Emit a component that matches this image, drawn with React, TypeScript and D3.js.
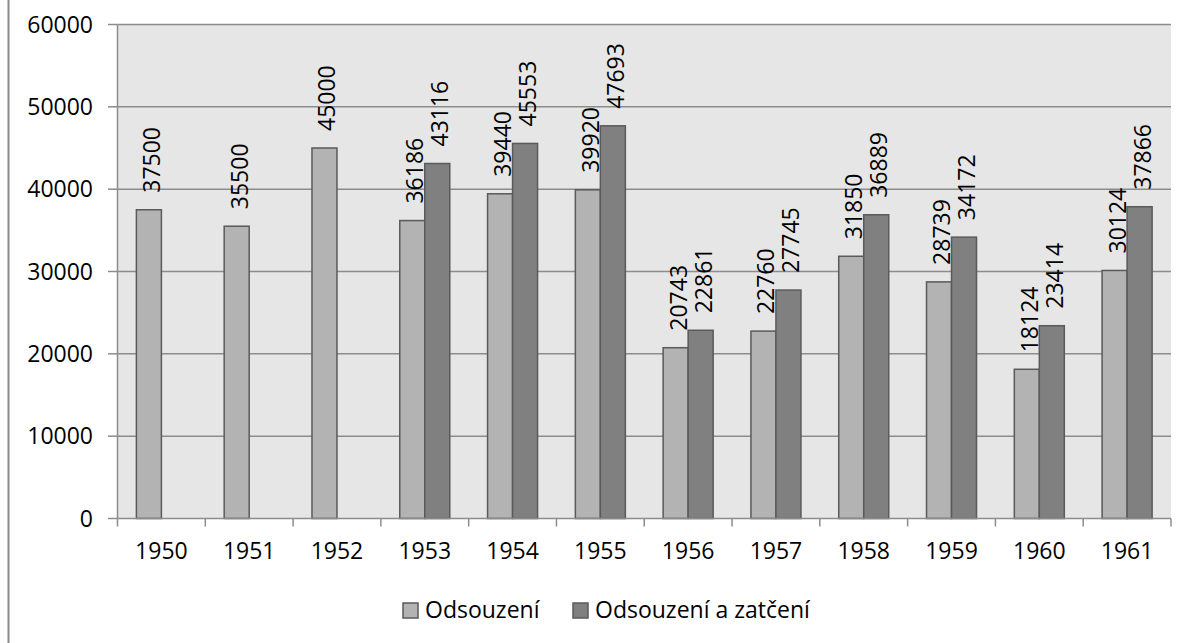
import React from "react";
import * as d3 from "d3";

const categories = ["1950","1951","1952","1953","1954","1955","1956","1957","1958","1959","1960","1961"];
const odsouzeni = [37500,35500,45000,36186,39440,39920,20743,22760,31850,28739,18124,30124];
const odsouzeniZatceni: (number | null)[] = [null,null,null,43116,45553,47693,22861,27745,36889,34172,23414,37866];
const yTicks = [0,10000,20000,30000,40000,50000,60000];
const seriesNames = ["Odsouzení","Odsouzení a zatčení"];

const W = 1192, H = 643;
const left = 117.5, right = 1171, top = 24.5, bottom = 518.5;
const font = "'Open Sans', sans-serif";
const fs = 23;
const colors = ["#b3b3b3", "#808080"];
const stroke = "#5a5a5a";

export default function App() {
  const x = d3.scaleBand().domain(categories).range([left, right]).paddingInner(0).paddingOuter(0);
  const y = d3.scaleLinear().domain([0, 60000]).range([bottom, top]);
  const bw = x.bandwidth();
  const barW = bw * 50 / 87.8 / 2;
  const groupOff = (bw - 2 * barW) / 2;
  const series = [odsouzeni, odsouzeniZatceni];

  return (
    <svg width={W} height={H} style={{ position: "fixed", left: 0, top: 0, background: "#fff" }} fontFamily={font}>
      <line x1={8.5} x2={8.5} y1={0} y2={H} stroke="#8a8a8a" strokeWidth={2} />
      <rect x={left} y={top} width={right - left} height={bottom - top} fill="#e6e6e6" />
      {yTicks.map(t => (
        <g key={t}>
          {t > 0 && <line x1={left} x2={right} y1={y(t)} y2={y(t)} stroke="#8c8c8c" strokeWidth={1.5} />}
          <line x1={108} x2={left} y1={y(t)} y2={y(t)} stroke="#8c8c8c" strokeWidth={1.5} />
          <text x={93} y={y(t)} dy="0.35em" textAnchor="end" fontSize={fs} fill="#000">{t}</text>
        </g>
      ))}
      <line x1={left} x2={left} y1={top} y2={bottom} stroke="#8c8c8c" strokeWidth={1.5} />
      {series.map((s, si) => s.map((v, i) => v == null ? null : (
        <rect key={`${si}-${i}`} x={(x(categories[i]) as number) + groupOff + si * barW} y={y(v)}
          width={barW} height={bottom - y(v)} fill={colors[si]} stroke={stroke} strokeWidth={1.5} />
      )))}
      {series.map((s, si) => s.map((v, i) => {
        if (v == null) return null;
        const cx = (x(categories[i]) as number) + groupOff + si * barW + barW / 2;
        return (
          <text key={`l${si}-${i}`} transform={`translate(${cx + 11},${y(v) - 17}) rotate(-90)`}
            fontSize={fs} fill="#000">{v}</text>
        );
      }))}
      <line x1={left} x2={right} y1={bottom} y2={bottom} stroke="#8c8c8c" strokeWidth={1.5} />
      {d3.range(categories.length + 1).map(i => {
        const xx = left + i * bw;
        return <line key={`t${i}`} x1={xx} x2={xx} y1={bottom} y2={bottom + 8} stroke="#8c8c8c" strokeWidth={1.5} />;
      })}
      {categories.map(c => (
        <text key={c} x={(x(c) as number) + bw / 2} y={559} textAnchor="middle" fontSize={fs} fill="#000">{c}</text>
      ))}
      {seriesNames.map((n, i) => {
        const lx = i === 0 ? 403 : 573;
        return (
          <g key={n}>
            <rect x={lx} y={603} width={15} height={15} fill={colors[i]} stroke={stroke} strokeWidth={1.5} />
            <text x={lx + 22} y={618} fontSize={fs} fill="#000">{n}</text>
          </g>
        );
      })}
    </svg>
  );
}
